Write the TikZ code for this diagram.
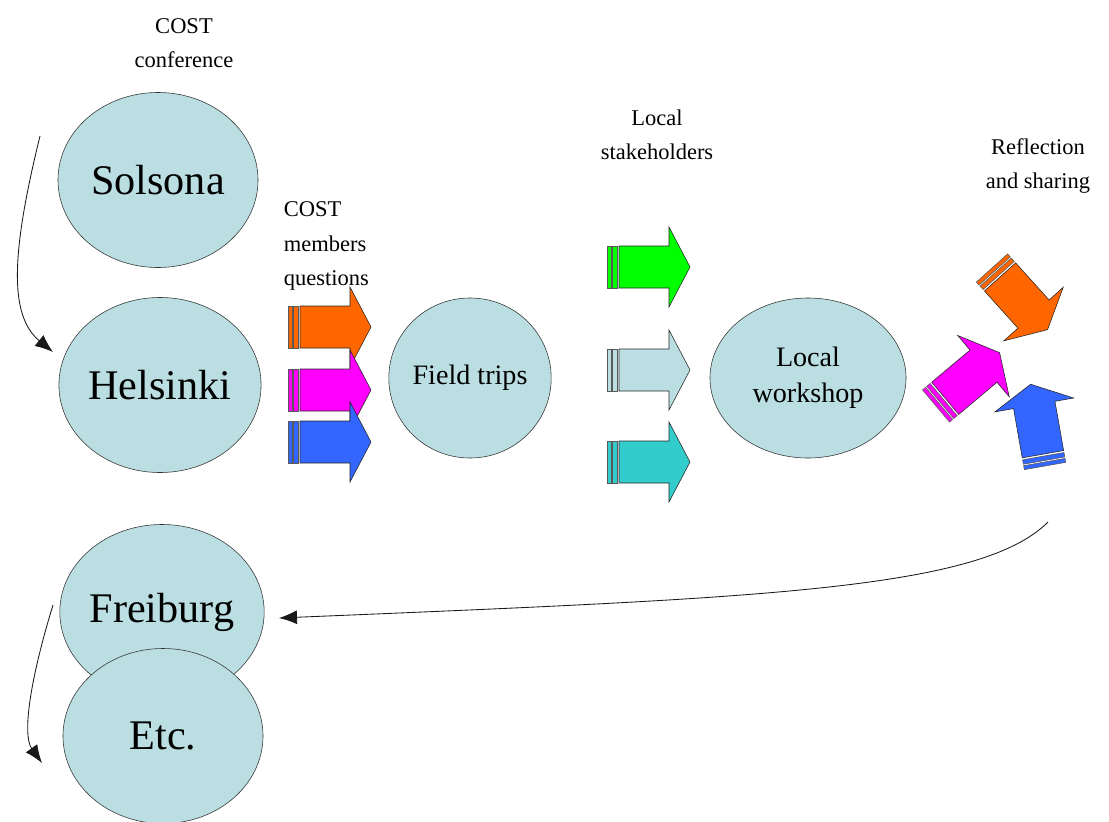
\documentclass[tikz,border=0pt]{standalone}
\usepackage{fontspec}
\setmainfont{Liberation Serif}
\usetikzlibrary{shapes.geometric,arrows.meta}
\definecolor{paleblue}{RGB}{186,222,226}
\definecolor{arrorange}{RGB}{255,102,0}
\definecolor{arrmagenta}{RGB}{255,0,255}
\definecolor{arrblue}{RGB}{51,102,255}
\definecolor{arrgreen}{RGB}{0,255,0}
\definecolor{arrteal}{RGB}{51,204,204}
\tikzset{
  city/.style={ellipse, draw=black!80, fill=paleblue, minimum width=5cm, minimum height=4.375cm, inner sep=0pt, font=\fontsize{30}{30}\selectfont},
  stage/.style={ellipse, draw=black!80, fill=paleblue, inner sep=0pt, align=center, font=\fontsize{20}{25.5}\selectfont},
  caption/.style={align=center, font=\fontsize{16}{24.5}\selectfont},
  flow/.style={-{Latex[length=4.5mm,width=3.5mm]}, black!90, line width=0.6pt},
  pics/blockarr/.style={code={
    \draw[fill=#1, draw=black!65] (0,-21) rectangle (4,21);
    \draw[fill=#1, draw=black!65] (5.5,-21) rectangle (10,21);
    \draw[fill=#1, draw=black!85] (12,-21) -- (62,-21) -- (62,-40) -- (83,0) -- (62,40) -- (62,21) -- (12,21) -- cycle;
  }}
}
\begin{document}
\begin{tikzpicture}[x=0.025cm, y=-0.025cm]
  \useasboundingbox (0,0) rectangle (1109,821);

  % cities
  \node[city] (solsona) at (158,180) {Solsona};
  \node[city] (helsinki) at (160,385) {Helsinki};
  \node[city] (freiburg) at (162,612) {Freiburg};
  \node[city] (etc) at (163,736) {Etc.};

  % stages
  \node[stage, minimum width=4cm, minimum height=4cm] (fieldtrips) at (470,378) {Field trips};
  \node[stage, minimum width=4.9cm, minimum height=4cm] (workshop) at (808,378) {Local\\workshop};

  % captions
  \node[caption] (conf) at (184,43) {COST\\conference};
  \node[caption, anchor=west, align=left] (members) at (279,246) {COST\\members\\questions};
  \node[caption] (stake) at (657,135) {Local\\stakeholders};
  \node[caption] (reflect) at (1038,166) {Reflection\\and sharing};

  % question arrows
  \pic at (288,327) {blockarr=arrorange};
  \pic at (288,390) {blockarr=arrmagenta};
  \pic at (288,442) {blockarr=arrblue};

  % stakeholder arrows
  \pic at (607,267) {blockarr=arrgreen};
  \pic at (607,370) {blockarr=paleblue};
  \pic at (607,462) {blockarr=arrteal};

  % reflection arrows
  \pic[rotate=-48] at (992,268) {blockarr=arrorange};
  \pic[rotate=40] at (936,406) {blockarr=arrmagenta};
  \pic[rotate=100] at (1045,466) {blockarr=arrblue};

  % connectors
  \coordinate (c1) at (40,136);
  \coordinate (c2) at (53,352);
  \coordinate (c3) at (1048,522);
  \coordinate (c4) at (279,618);
  \coordinate (c5) at (53,605);
  \coordinate (c6) at (42,763);
  \draw[flow] (c1) .. controls (12,250) and (8,315) .. (c2);
  \draw[flow] (c3) .. controls (980,590) and (760,598) .. (c4);
  \draw[flow] (c5) .. controls (30,680) and (22,735) .. (c6);
\end{tikzpicture}
\end{document}
